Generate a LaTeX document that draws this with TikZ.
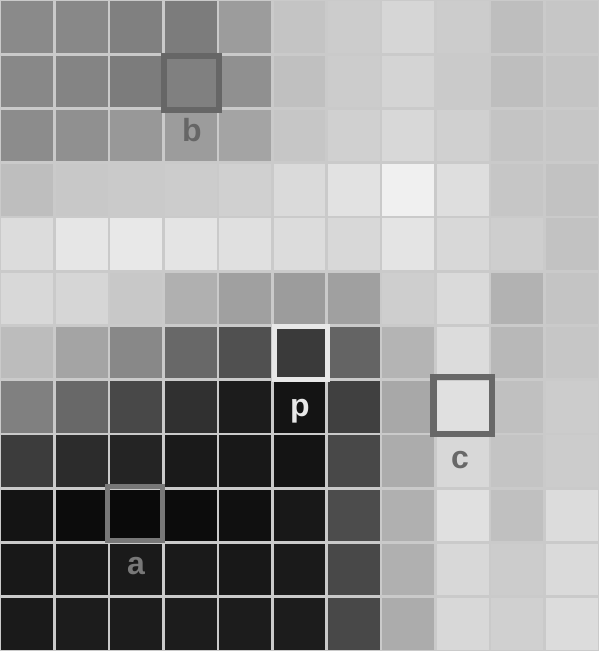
\documentclass[tikz,border=0pt]{standalone}
\usepackage{fontspec}
\setmainfont{Liberation Sans}
\begin{document}
\begin{tikzpicture}[x=1pt,y=-1pt,
  gridline/.style={draw={rgb,255:red,202;green,202;blue,202},line width=2.6pt},
  markbox/.style={line width=#1},
  lbl/.style={font=\bfseries\fontsize{32}{32}\selectfont,inner sep=0pt,anchor=base}]
\useasboundingbox (0,0) rectangle (599,651);
\def\cw{54.4545}
\def\ch{54.25}
\foreach \row [count=\r from 0] in {
 {138,136,128,124,156,196,204,214,204,190,198},
 {136,132,124,128,144,192,204,212,202,190,196},
 {140,144,152,156,164,198,208,216,208,196,198},
 {190,200,202,204,208,218,226,240,222,198,194},
 {220,230,232,228,224,220,216,228,216,206,194},
 {216,214,200,176,160,156,160,206,218,178,196},
 {188,164,136,104,80,58,100,180,220,184,198},
 {128,104,72,48,28,20,64,168,224,192,204},
 {60,44,36,26,24,20,72,172,216,196,204},
 {20,12,10,12,16,24,76,176,224,192,220},
 {24,24,26,26,24,26,72,176,216,204,218},
 {26,28,28,28,28,28,72,172,216,208,220}} {
  \foreach \v [count=\c from 0] in \row {
    \definecolor{cellc}{RGB}{\v,\v,\v}
    \fill[cellc] (\c*\cw,\r*\ch) rectangle ({(\c+1)*\cw},{(\r+1)*\ch});
  }
}
\foreach \c in {0,...,11} \draw[gridline] (\c*\cw,0) -- (\c*\cw,651);
\foreach \r in {0,...,12} \draw[gridline] (0,\r*\ch) -- (599,\r*\ch);
% highlighted cells
\definecolor{bcol}{RGB}{102,102,102}
\definecolor{ccol}{RGB}{104,104,104}
\definecolor{acol}{RGB}{120,120,120}
\definecolor{pcol}{RGB}{232,232,232}
\draw[markbox=6pt,bcol] (3*\cw+1,1*\ch+2) rectangle (4*\cw+1,2*\ch+1);
\draw[markbox=5pt,pcol] (5*\cw+2,6*\ch+1) rectangle (6*\cw+1,7*\ch);
\draw[markbox=6.5pt,ccol] (8*\cw-2,7*\ch-3) rectangle (9*\cw+2,8*\ch);
\draw[markbox=5pt,acol] (2*\cw-1,9*\ch-2) rectangle (3*\cw-1,10*\ch-2);
% labels
\node[lbl,text=bcol] (lb) at (192,141) {b};
\node[lbl,text=pcol] (lp) at (300,416) {p};
\node[lbl,text=ccol] (lc) at (460,468) {c};
\node[lbl,text=acol] (la) at (136,574) {a};
\end{tikzpicture}
\end{document}
